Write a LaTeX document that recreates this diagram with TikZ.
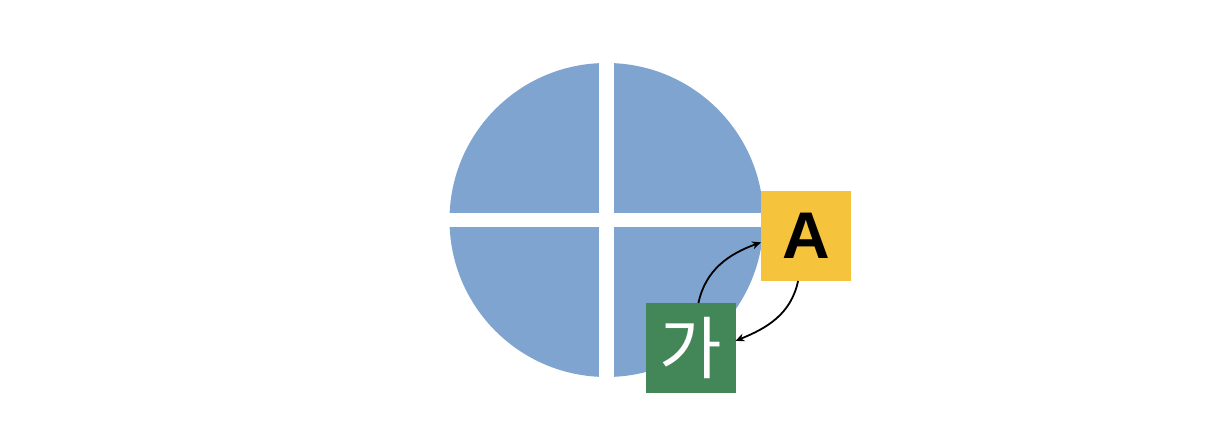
\documentclass[tikz,border=0pt]{standalone}
\usepackage{fontspec}
\setmainfont{Liberation Sans}
\newfontfamily\krfont{Noto Sans CJK KR}
\usetikzlibrary{arrows.meta}

\definecolor{pieblue}{RGB}{127,164,208}
\definecolor{tagyellow}{RGB}{245,195,60}
\definecolor{taggreen}{RGB}{67,134,87}

\begin{document}
\begin{tikzpicture}[x=0.5pt,y=0.5pt,
  tag/.style={minimum size=45pt,inner sep=0pt,outer sep=0pt},
  swap/.style={-{Stealth[length=4.5pt,width=4pt]},line width=0.9pt}]
\useasboundingbox (0,0) rectangle (1222,432);
%% four quarters of the disc
\begin{scope}
\clip (606.5,212) circle (157);
\fill[pieblue] (440,219.3) rectangle (599,380);
\fill[pieblue] (614,219.3) rectangle (770,380);
\fill[pieblue] (440,205.3) rectangle (599,50);
\fill[pieblue] (614,205.3) rectangle (770,50);
\end{scope}
%% the two letters
\node[tag,fill=tagyellow] (latin) at (806,196) {\fontsize{33}{33}\selectfont\bfseries A};
\node[tag,fill=taggreen,text=white] (hangul) at (690.5,84) {\krfont\fontsize{34}{34}\selectfont 가};
\draw[swap] (hangul.80) to[out=78,in=200] (latin.188);
\draw[swap] (latin.260) to[out=258,in=22] (hangul.9);
\end{tikzpicture}
\end{document}
